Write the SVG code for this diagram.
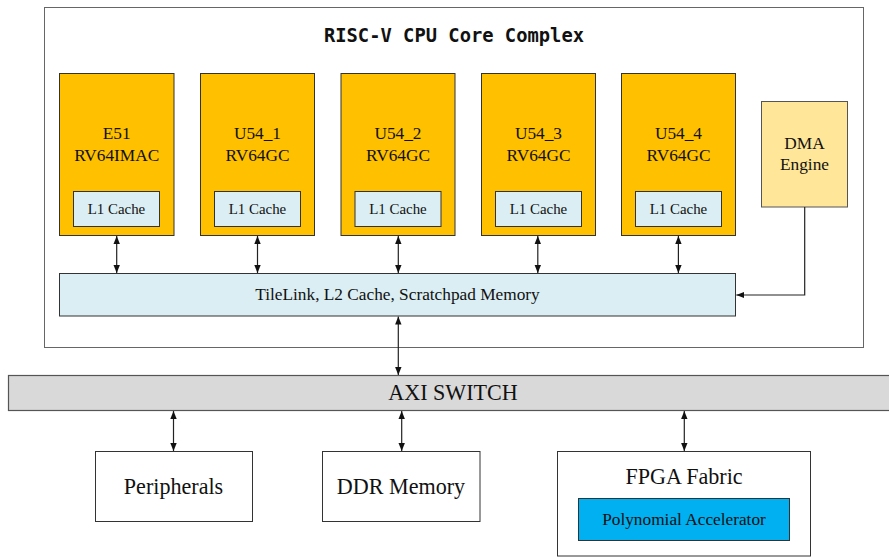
<svg xmlns="http://www.w3.org/2000/svg" width="889" height="557" viewBox="0 0 889 557">
<style>
.serif{font-family:'Liberation Serif','Tinos','DejaVu Serif',serif;fill:#111;text-anchor:middle}
.cn{font-size:17.3px}
.l1t{font-size:14.9px}
.big{font-size:22.1px}
.core{fill:#FFC000;stroke:#333;stroke-width:1}
.l1{fill:#DAEEF3;stroke:#333;stroke-width:1}
.plain{fill:#fff;stroke:#333;stroke-width:1}
.conn{stroke:#222;stroke-width:1.2;fill:none}
</style>
<defs>
<marker id="ah" viewBox="0 0 10 10" refX="10" refY="5" markerWidth="8" markerHeight="8" markerUnits="userSpaceOnUse" orient="auto-start-reverse">
<path d="M0,1 L10,5 L0,9 z" fill="#111"/>
</marker>
</defs>
<rect width="889" height="557" fill="#fff"/>

<g id="complex">
<rect x="44.5" y="7.5" width="819" height="340" fill="#fff" stroke="#666" stroke-width="1"/>
<text x="454" y="42" font-family="'DejaVu Sans Mono','Liberation Mono',monospace" font-weight="bold" font-size="18.8" text-anchor="middle" fill="#111">RISC-V CPU Core Complex</text>
</g>

<g id="e51">
<rect class="core" x="59.5" y="73.5" width="114.5" height="162"/>
<text class="serif cn" x="116.7" y="138.5">E51</text>
<text class="serif cn" x="116.7" y="160.5">RV64IMAC</text>
<rect class="l1" x="73.5" y="191.5" width="86" height="35"/>
<text class="serif l1t" x="116.5" y="214">L1 Cache</text>
</g>
<g id="u54_1">
<rect class="core" x="200.5" y="73.5" width="114" height="162"/>
<text class="serif cn" x="257.5" y="138.5">U54_1</text>
<text class="serif cn" x="257.5" y="160.5">RV64GC</text>
<rect class="l1" x="214.5" y="191.5" width="86" height="35"/>
<text class="serif l1t" x="257.5" y="214">L1 Cache</text>
</g>
<g id="u54_2">
<rect class="core" x="341" y="73.5" width="114" height="162"/>
<text class="serif cn" x="398" y="138.5">U54_2</text>
<text class="serif cn" x="398" y="160.5">RV64GC</text>
<rect class="l1" x="355" y="191.5" width="86" height="35"/>
<text class="serif l1t" x="398" y="214">L1 Cache</text>
</g>
<g id="u54_3">
<rect class="core" x="481.5" y="73.5" width="114" height="162"/>
<text class="serif cn" x="538.5" y="138.5">U54_3</text>
<text class="serif cn" x="538.5" y="160.5">RV64GC</text>
<rect class="l1" x="495.5" y="191.5" width="86" height="35"/>
<text class="serif l1t" x="538.5" y="214">L1 Cache</text>
</g>
<g id="u54_4">
<rect class="core" x="621.5" y="73.5" width="114" height="162"/>
<text class="serif cn" x="678.5" y="138.5">U54_4</text>
<text class="serif cn" x="678.5" y="160.5">RV64GC</text>
<rect class="l1" x="635.5" y="191.5" width="86" height="35"/>
<text class="serif l1t" x="678.5" y="214">L1 Cache</text>
</g>
<g id="dma">
<rect x="761.5" y="101.5" width="86" height="105.5" fill="#FFE699" stroke="#555" stroke-width="1"/>
<text class="serif cn" x="804.5" y="149">DMA</text>
<text class="serif cn" x="804.5" y="170">Engine</text>
</g>
<g id="tilelink">
<rect class="l1" x="59.5" y="273.5" width="676" height="42.5"/>
<text class="serif cn" x="397.5" y="300">TileLink, L2 Cache, Scratchpad Memory</text>
</g>
<g id="axi">
<rect x="8.5" y="375.5" width="890" height="35" fill="#D9D9D9" stroke="#555" stroke-width="1.2"/>
<text class="serif big" x="453" y="400">AXI SWITCH</text>
</g>
<g id="peripherals">
<rect class="plain" x="95.5" y="451.5" width="157" height="70"/>
<text class="serif big" x="173.5" y="493.5">Peripherals</text>
</g>
<g id="ddr">
<rect class="plain" x="322.5" y="451.5" width="157.5" height="70"/>
<text class="serif big" x="401" y="493.5">DDR Memory</text>
</g>
<g id="fpga">
<rect class="plain" x="557.5" y="451.5" width="253" height="104.5"/>
<text class="serif big" x="684" y="483.5">FPGA Fabric</text>
<rect x="578.5" y="498.5" width="211" height="42" fill="#00B0F0" stroke="#333" stroke-width="1"/>
<text class="serif cn" x="684" y="525">Polynomial Accelerator</text>
</g>

<g id="connectors">
<line class="conn" x1="116.7" y1="236" x2="116.7" y2="273" marker-start="url(#ah)" marker-end="url(#ah)"/>
<line class="conn" x1="257.5" y1="236" x2="257.5" y2="273" marker-start="url(#ah)" marker-end="url(#ah)"/>
<line class="conn" x1="398.3" y1="236" x2="398.3" y2="273" marker-start="url(#ah)" marker-end="url(#ah)"/>
<line class="conn" x1="537.8" y1="236" x2="537.8" y2="273" marker-start="url(#ah)" marker-end="url(#ah)"/>
<line class="conn" x1="678.4" y1="236" x2="678.4" y2="273" marker-start="url(#ah)" marker-end="url(#ah)"/>
<polyline class="conn" points="804.7,207 804.7,295 736.3,295" marker-end="url(#ah)" stroke="#555"/>
<line class="conn" x1="398.3" y1="316.5" x2="398.3" y2="375" marker-start="url(#ah)" marker-end="url(#ah)"/>
<line class="conn" x1="173.5" y1="411" x2="173.5" y2="451" marker-start="url(#ah)" marker-end="url(#ah)"/>
<line class="conn" x1="401.7" y1="411" x2="401.7" y2="451" marker-start="url(#ah)" marker-end="url(#ah)"/>
<line class="conn" x1="684.3" y1="411" x2="684.3" y2="451" marker-start="url(#ah)" marker-end="url(#ah)"/>
</g>
</svg>
